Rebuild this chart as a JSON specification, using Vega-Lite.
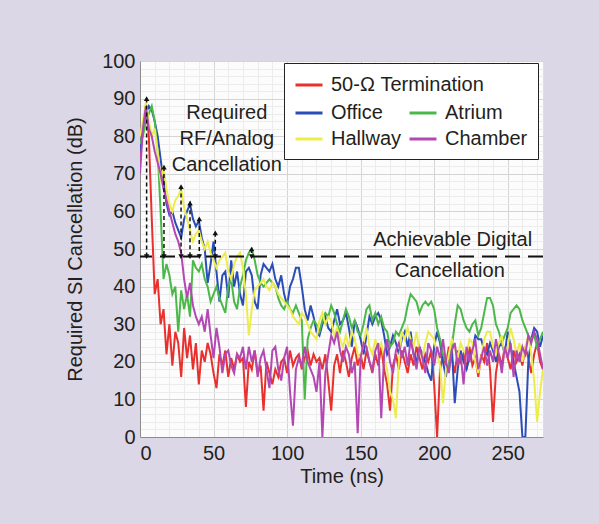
{
  "$schema": "https://vega.github.io/schema/vega-lite/v6.json",
  "width": 403,
  "height": 376,
  "autosize": {"type": "none"},
  "padding": {"left": 140, "top": 61, "right": 56, "bottom": 87},
  "background": "#dbd7e6",
  "config": {
    "font": "Liberation Sans",
    "view": {"fill": "#fcfcfd", "stroke": "#dddddd"},
    "axis": {
      "labelFontSize": 20,
      "labelColor": "#231f20",
      "titleFontSize": 20,
      "titleFontWeight": "normal",
      "titleColor": "#231f20",
      "ticks": false,
      "domainColor": "#8c8c8c",
      "labelOverlap": false
    }
  },
  "datasets": {
    "curves": [
      {"t":0,"Termination":74,"Office":76,"Atrium":78,"Hallway":80,"Chamber":70},
      {"t":2,"Termination":82,"Office":82,"Atrium":80,"Hallway":84,"Chamber":82},
      {"t":4,"Termination":88,"Office":86,"Atrium":84,"Hallway":89,"Chamber":88},
      {"t":6,"Termination":80,"Office":88,"Atrium":86,"Hallway":84,"Chamber":82},
      {"t":8,"Termination":58,"Office":87,"Atrium":88,"Hallway":80,"Chamber":80},
      {"t":10,"Termination":38,"Office":84,"Atrium":84,"Hallway":82,"Chamber":76},
      {"t":12,"Termination":42,"Office":80,"Atrium":76,"Hallway":76,"Chamber":73},
      {"t":14,"Termination":30,"Office":74,"Atrium":60,"Hallway":68,"Chamber":70},
      {"t":16,"Termination":34,"Office":68,"Atrium":42,"Hallway":72,"Chamber":66},
      {"t":18,"Termination":22,"Office":62,"Atrium":46,"Hallway":66,"Chamber":63},
      {"t":20,"Termination":30,"Office":59,"Atrium":43,"Hallway":62,"Chamber":60},
      {"t":22,"Termination":19,"Office":60,"Atrium":38,"Hallway":60,"Chamber":57},
      {"t":24,"Termination":28,"Office":57,"Atrium":40,"Hallway":63,"Chamber":54},
      {"t":26,"Termination":25,"Office":55,"Atrium":28,"Hallway":64,"Chamber":52},
      {"t":28,"Termination":16,"Office":53,"Atrium":39,"Hallway":66,"Chamber":49},
      {"t":30,"Termination":29,"Office":58,"Atrium":34,"Hallway":61,"Chamber":42},
      {"t":32,"Termination":21,"Office":60,"Atrium":38,"Hallway":58,"Chamber":37},
      {"t":34,"Termination":27,"Office":62,"Atrium":32,"Hallway":55,"Chamber":41},
      {"t":36,"Termination":18,"Office":58,"Atrium":47,"Hallway":52,"Chamber":35},
      {"t":38,"Termination":25,"Office":56,"Atrium":45,"Hallway":54,"Chamber":32},
      {"t":40,"Termination":14,"Office":57.5,"Atrium":44,"Hallway":55,"Chamber":30},
      {"t":42,"Termination":23,"Office":53,"Atrium":46,"Hallway":52,"Chamber":32},
      {"t":44,"Termination":20,"Office":50,"Atrium":42,"Hallway":50,"Chamber":28},
      {"t":46,"Termination":25,"Office":41,"Atrium":40,"Hallway":52,"Chamber":34},
      {"t":48,"Termination":22,"Office":46,"Atrium":36,"Hallway":49,"Chamber":27},
      {"t":50,"Termination":17,"Office":52,"Atrium":38,"Hallway":47,"Chamber":21},
      {"t":52,"Termination":13,"Office":44,"Atrium":40,"Hallway":45,"Chamber":29},
      {"t":54,"Termination":22,"Office":36,"Atrium":37,"Hallway":47,"Chamber":24},
      {"t":56,"Termination":19,"Office":43,"Atrium":35,"Hallway":48,"Chamber":17},
      {"t":58,"Termination":23,"Office":44,"Atrium":33,"Hallway":49,"Chamber":22},
      {"t":60,"Termination":16,"Office":37,"Atrium":40,"Hallway":44,"Chamber":23},
      {"t":62,"Termination":21,"Office":47,"Atrium":42,"Hallway":42,"Chamber":19},
      {"t":64,"Termination":18,"Office":40,"Atrium":36,"Hallway":46,"Chamber":17},
      {"t":66,"Termination":22,"Office":44,"Atrium":34,"Hallway":48,"Chamber":22},
      {"t":68,"Termination":20,"Office":38,"Atrium":40,"Hallway":49,"Chamber":21},
      {"t":70,"Termination":21,"Office":35,"Atrium":43,"Hallway":45,"Chamber":24},
      {"t":72,"Termination":8,"Office":44,"Atrium":47,"Hallway":38,"Chamber":18},
      {"t":74,"Termination":20,"Office":45,"Atrium":49,"Hallway":27,"Chamber":24},
      {"t":76,"Termination":18,"Office":43,"Atrium":50,"Hallway":34,"Chamber":20},
      {"t":78,"Termination":23,"Office":36,"Atrium":47,"Hallway":39,"Chamber":23},
      {"t":80,"Termination":17,"Office":34,"Atrium":43,"Hallway":40,"Chamber":16},
      {"t":82,"Termination":19,"Office":43,"Atrium":41,"Hallway":41,"Chamber":21},
      {"t":84,"Termination":7,"Office":46,"Atrium":40,"Hallway":42,"Chamber":23},
      {"t":86,"Termination":20,"Office":45,"Atrium":41,"Hallway":40,"Chamber":18},
      {"t":88,"Termination":17,"Office":44,"Atrium":42,"Hallway":39,"Chamber":13},
      {"t":90,"Termination":14,"Office":46,"Atrium":41,"Hallway":41,"Chamber":23},
      {"t":92,"Termination":18,"Office":42,"Atrium":40,"Hallway":40,"Chamber":24},
      {"t":94,"Termination":16,"Office":40,"Atrium":37,"Hallway":38,"Chamber":18},
      {"t":96,"Termination":20,"Office":43,"Atrium":35,"Hallway":37,"Chamber":15},
      {"t":98,"Termination":21,"Office":38,"Atrium":34,"Hallway":36,"Chamber":21},
      {"t":100,"Termination":17,"Office":35,"Atrium":36,"Hallway":35,"Chamber":24},
      {"t":102,"Termination":23,"Office":40,"Atrium":34,"Hallway":34,"Chamber":12},
      {"t":104,"Termination":19,"Office":42,"Atrium":33,"Hallway":32,"Chamber":3},
      {"t":106,"Termination":21,"Office":45,"Atrium":35,"Hallway":31,"Chamber":18},
      {"t":108,"Termination":22,"Office":45,"Atrium":33,"Hallway":30,"Chamber":21},
      {"t":110,"Termination":18,"Office":40,"Atrium":31,"Hallway":33,"Chamber":19},
      {"t":112,"Termination":21,"Office":34,"Atrium":10,"Hallway":32,"Chamber":24},
      {"t":114,"Termination":23,"Office":31,"Atrium":26,"Hallway":30,"Chamber":20},
      {"t":116,"Termination":19,"Office":35,"Atrium":29,"Hallway":28,"Chamber":18},
      {"t":118,"Termination":22,"Office":32,"Atrium":31,"Hallway":27,"Chamber":16},
      {"t":120,"Termination":20,"Office":28,"Atrium":30,"Hallway":26,"Chamber":12},
      {"t":122,"Termination":21,"Office":27,"Atrium":28,"Hallway":31,"Chamber":20},
      {"t":124,"Termination":18,"Office":30,"Atrium":31,"Hallway":33,"Chamber":0},
      {"t":126,"Termination":22,"Office":32,"Atrium":33,"Hallway":30,"Chamber":17},
      {"t":128,"Termination":15,"Office":29,"Atrium":32,"Hallway":32,"Chamber":22},
      {"t":130,"Termination":7,"Office":28,"Atrium":35,"Hallway":31,"Chamber":27},
      {"t":132,"Termination":19,"Office":31,"Atrium":33,"Hallway":27,"Chamber":25},
      {"t":134,"Termination":22,"Office":34,"Atrium":30,"Hallway":29,"Chamber":28},
      {"t":136,"Termination":17,"Office":30,"Atrium":28,"Hallway":26,"Chamber":23},
      {"t":138,"Termination":23,"Office":31,"Atrium":31,"Hallway":24,"Chamber":20},
      {"t":140,"Termination":20,"Office":33,"Atrium":34,"Hallway":27,"Chamber":24},
      {"t":142,"Termination":16,"Office":29,"Atrium":32,"Hallway":24,"Chamber":22},
      {"t":144,"Termination":21,"Office":24,"Atrium":29,"Hallway":28,"Chamber":17},
      {"t":146,"Termination":24,"Office":31,"Atrium":31,"Hallway":26,"Chamber":20},
      {"t":148,"Termination":19,"Office":29,"Atrium":28,"Hallway":22,"Chamber":1},
      {"t":150,"Termination":22,"Office":26,"Atrium":27,"Hallway":21,"Chamber":21},
      {"t":152,"Termination":18,"Office":22,"Atrium":30,"Hallway":25,"Chamber":25},
      {"t":154,"Termination":23,"Office":27,"Atrium":34,"Hallway":29,"Chamber":24},
      {"t":156,"Termination":20,"Office":32,"Atrium":35,"Hallway":24,"Chamber":20},
      {"t":158,"Termination":17,"Office":30,"Atrium":31,"Hallway":22,"Chamber":18},
      {"t":160,"Termination":22,"Office":32,"Atrium":33,"Hallway":26,"Chamber":23},
      {"t":162,"Termination":19,"Office":33,"Atrium":30,"Hallway":23,"Chamber":25},
      {"t":164,"Termination":24,"Office":31,"Atrium":32,"Hallway":25,"Chamber":5},
      {"t":166,"Termination":18,"Office":27,"Atrium":29,"Hallway":21,"Chamber":22},
      {"t":168,"Termination":14,"Office":22,"Atrium":28,"Hallway":18,"Chamber":26},
      {"t":170,"Termination":7,"Office":24,"Atrium":24,"Hallway":12,"Chamber":20},
      {"t":172,"Termination":19,"Office":27,"Atrium":25,"Hallway":10,"Chamber":17},
      {"t":174,"Termination":22,"Office":25,"Atrium":28,"Hallway":5,"Chamber":23},
      {"t":176,"Termination":18,"Office":22,"Atrium":27,"Hallway":20,"Chamber":25},
      {"t":178,"Termination":23,"Office":26,"Atrium":29,"Hallway":28,"Chamber":21},
      {"t":180,"Termination":20,"Office":28,"Atrium":31,"Hallway":26,"Chamber":24},
      {"t":182,"Termination":17,"Office":24,"Atrium":35,"Hallway":29,"Chamber":19},
      {"t":184,"Termination":22,"Office":28,"Atrium":38,"Hallway":26,"Chamber":26},
      {"t":186,"Termination":19,"Office":22,"Atrium":37,"Hallway":24,"Chamber":22},
      {"t":188,"Termination":24,"Office":20,"Atrium":36,"Hallway":28,"Chamber":18},
      {"t":190,"Termination":21,"Office":24,"Atrium":33,"Hallway":23,"Chamber":24},
      {"t":192,"Termination":18,"Office":22,"Atrium":35,"Hallway":21,"Chamber":21},
      {"t":194,"Termination":22,"Office":20,"Atrium":36,"Hallway":25,"Chamber":17},
      {"t":196,"Termination":20,"Office":17,"Atrium":35,"Hallway":28,"Chamber":25},
      {"t":198,"Termination":23,"Office":15,"Atrium":36,"Hallway":27,"Chamber":23},
      {"t":200,"Termination":14,"Office":24,"Atrium":34,"Hallway":26,"Chamber":19},
      {"t":202,"Termination":0,"Office":28,"Atrium":29,"Hallway":22,"Chamber":24},
      {"t":204,"Termination":18,"Office":25,"Atrium":26,"Hallway":19,"Chamber":21},
      {"t":206,"Termination":22,"Office":20,"Atrium":22,"Hallway":9,"Chamber":26},
      {"t":208,"Termination":19,"Office":16,"Atrium":20,"Hallway":18,"Chamber":20},
      {"t":210,"Termination":24,"Office":22,"Atrium":18,"Hallway":22,"Chamber":17},
      {"t":212,"Termination":21,"Office":24,"Atrium":24,"Hallway":26,"Chamber":23},
      {"t":214,"Termination":17,"Office":9,"Atrium":30,"Hallway":24,"Chamber":25},
      {"t":216,"Termination":23,"Office":18,"Atrium":35,"Hallway":21,"Chamber":19},
      {"t":218,"Termination":20,"Office":23,"Atrium":34,"Hallway":25,"Chamber":22},
      {"t":220,"Termination":22,"Office":20,"Atrium":31,"Hallway":23,"Chamber":14},
      {"t":222,"Termination":18,"Office":18,"Atrium":29,"Hallway":22,"Chamber":24},
      {"t":224,"Termination":24,"Office":21,"Atrium":28,"Hallway":26,"Chamber":20},
      {"t":226,"Termination":19,"Office":23,"Atrium":30,"Hallway":25,"Chamber":23},
      {"t":228,"Termination":21,"Office":27,"Atrium":31,"Hallway":20,"Chamber":26},
      {"t":230,"Termination":16,"Office":26,"Atrium":27,"Hallway":17,"Chamber":18},
      {"t":232,"Termination":22,"Office":26,"Atrium":29,"Hallway":21,"Chamber":21},
      {"t":234,"Termination":20,"Office":23,"Atrium":33,"Hallway":26,"Chamber":24},
      {"t":236,"Termination":25,"Office":22,"Atrium":37,"Hallway":28,"Chamber":19},
      {"t":238,"Termination":18,"Office":25,"Atrium":37,"Hallway":28,"Chamber":23},
      {"t":240,"Termination":4,"Office":23,"Atrium":35,"Hallway":24,"Chamber":20},
      {"t":242,"Termination":17,"Office":20,"Atrium":30,"Hallway":22,"Chamber":26},
      {"t":244,"Termination":22,"Office":24,"Atrium":28,"Hallway":25,"Chamber":22},
      {"t":246,"Termination":19,"Office":25,"Atrium":25,"Hallway":27,"Chamber":17},
      {"t":248,"Termination":24,"Office":22,"Atrium":27,"Hallway":21,"Chamber":24},
      {"t":250,"Termination":21,"Office":28,"Atrium":29,"Hallway":24,"Chamber":21},
      {"t":252,"Termination":18,"Office":24,"Atrium":33,"Hallway":29,"Chamber":25},
      {"t":254,"Termination":23,"Office":20,"Atrium":34,"Hallway":26,"Chamber":16},
      {"t":256,"Termination":20,"Office":16,"Atrium":35,"Hallway":22,"Chamber":23},
      {"t":258,"Termination":22,"Office":12,"Atrium":34,"Hallway":25,"Chamber":20},
      {"t":260,"Termination":19,"Office":0,"Atrium":31,"Hallway":20,"Chamber":24},
      {"t":262,"Termination":24,"Office":0,"Atrium":29,"Hallway":24,"Chamber":22},
      {"t":264,"Termination":21,"Office":20,"Atrium":27,"Hallway":27,"Chamber":27},
      {"t":266,"Termination":17,"Office":26,"Atrium":26,"Hallway":22,"Chamber":25},
      {"t":268,"Termination":22,"Office":29,"Atrium":27,"Hallway":15,"Chamber":28},
      {"t":270,"Termination":25,"Office":28,"Atrium":24,"Hallway":4,"Chamber":26},
      {"t":272,"Termination":20,"Office":24,"Atrium":26,"Hallway":12,"Chamber":22},
      {"t":274,"Termination":18,"Office":27,"Atrium":28,"Hallway":18,"Chamber":18}
    ],
    "arrows": [
      {"t":4.5,"top":90,"bottom":48},
      {"t":16.3,"top":71.8,"bottom":48},
      {"t":27.9,"top":66.6,"bottom":48},
      {"t":34,"top":62.2,"bottom":48},
      {"t":40.3,"top":58,"bottom":48},
      {"t":51.2,"top":54.3,"bottom":48},
      {"t":75.9,"top":50,"bottom":48}
    ],
    "one": [{}]
  },
  "resolve": {"scale": {"color": "independent"}},
  "layer": [
    {
      "data": {"name": "curves"},
      "transform": [
        {"fold": ["Termination","Office","Atrium","Hallway","Chamber"], "as": ["series","value"]},
        {"filter": "datum.series === 'Termination'"}
      ],
      "mark": {"type": "line", "strokeWidth": 2, "clip": true},
      "encoding": {
        "x": {"field": "t", "type": "quantitative",
          "scale": {"domain": [0, 274], "nice": false},
          "axis": {"title": "Time (ns)", "titlePadding": 3, "labelPadding": 6, "labelOverlap": false, "tickCount": 100,
            "values": [0,10,20,30,40,50,60,70,80,90,100,110,120,130,140,150,160,170,180,190,200,210,220,230,240,250,260,270],
            "labelExpr": "datum.value % 50 === 0 ? datum.label : ''",
            "gridColor": {"condition": {"test": "datum.value % 50 === 0", "value": "#d4d4d4"}, "value": "#ececec"}}},
        "y": {"field": "value", "type": "quantitative",
          "scale": {"domain": [0, 100], "nice": false},
          "axis": {"title": "Required SI Cancellation (dB)", "titlePadding": 16, "labelPadding": 5, "labelOverlap": false, "tickCount": 100,
            "values": [0,2,4,6,8,10,12,14,16,18,20,22,24,26,28,30,32,34,36,38,40,42,44,46,48,50,52,54,56,58,60,62,64,66,68,70,72,74,76,78,80,82,84,86,88,90,92,94,96,98,100],
            "labelExpr": "datum.value % 10 === 0 ? datum.label : ''",
            "gridColor": {"condition": {"test": "datum.value % 10 === 0", "value": "#d4d4d4"}, "value": "#ececec"}}},
        "color": {"field": "series", "type": "nominal",
          "scale": {"domain": ["Termination"], "range": ["#e8302c"]},
          "legend": {"orient": "none", "legendX": 154, "legendY": 9, "title": null,
            "labelExpr": "'50-Ω Termination'", "symbolType": "stroke", "symbolSize": 729, "symbolStrokeWidth": 3,
            "labelFontSize": 20, "labelColor": "#231f20", "labelOffset": 7, "labelLimit": 300, "padding": 0, "zindex": 3}}
      }
    },
    {
      "data": {"name": "curves"},
      "transform": [
        {"fold": ["Termination","Office","Atrium","Hallway","Chamber"], "as": ["series","value"]},
        {"filter": "datum.series !== 'Termination'"}
      ],
      "mark": {"type": "line", "strokeWidth": 2, "clip": true},
      "encoding": {
        "x": {"field": "t", "type": "quantitative"},
        "y": {"field": "value", "type": "quantitative"},
        "color": {"field": "series", "type": "nominal",
          "scale": {"domain": ["Office","Hallway","Atrium","Chamber"], "range": ["#2a4db8","#ecec4c","#4cb84a","#b347b3"]},
          "legend": {"orient": "none", "legendX": 144, "legendY": 2,
            "title": ".",
            "titleFontSize": 20, "titleFontWeight": "normal", "titleColor": "transparent", "titlePadding": 5, "titleLimit": 400,
            "columns": 2, "columnPadding": 1, "rowPadding": 1,
            "symbolType": "stroke", "symbolSize": 729, "symbolStrokeWidth": 3,
            "labelFontSize": 20, "labelColor": "#231f20", "labelOffset": 7, "labelLimit": 300,
            "padding": 10, "fillColor": "white", "strokeColor": "#222222", "zindex": 2}}
      }
    },
    {
      "data": {"name": "one"},
      "mark": {"type": "rule", "color": "#111111", "strokeWidth": 2, "strokeDash": [15, 8]},
      "encoding": {"y": {"datum": 48}}
    },
    {
      "data": {"name": "arrows"},
      "mark": {"type": "rule", "color": "#111111", "strokeWidth": 1.5, "strokeDash": [4, 3]},
      "encoding": {
        "x": {"field": "t", "type": "quantitative"},
        "y": {"field": "top", "type": "quantitative"},
        "y2": {"field": "bottom"}
      }
    },
    {
      "data": {"name": "arrows"},
      "mark": {"type": "point", "shape": "triangle-up", "filled": true, "size": 30, "color": "#111111", "opacity": 1},
      "encoding": {
        "x": {"field": "t", "type": "quantitative"},
        "y": {"field": "top", "type": "quantitative"}
      }
    },
    {
      "data": {"name": "arrows"},
      "mark": {"type": "point", "shape": "triangle-down", "filled": true, "size": 30, "color": "#111111", "opacity": 1},
      "encoding": {
        "x": {"field": "t", "type": "quantitative"},
        "y": {"field": "bottom", "type": "quantitative"}
      }
    },
    {
      "data": {"name": "one"},
      "mark": {"type": "text", "fontSize": 20, "color": "#231f20", "align": "center", "baseline": "middle", "lineHeight": 26},
      "encoding": {
        "x": {"datum": 59},
        "y": {"datum": 86.2},
        "text": {"value": ["Required", "RF/Analog", "Cancellation"]}
      }
    },
    {
      "data": {"name": "one"},
      "mark": {"type": "text", "fontSize": 20, "color": "#231f20", "align": "center", "baseline": "middle"},
      "encoding": {
        "x": {"datum": 212.6},
        "y": {"datum": 52.4},
        "text": {"value": "Achievable Digital"}
      }
    },
    {
      "data": {"name": "one"},
      "mark": {"type": "text", "fontSize": 20, "color": "#231f20", "align": "center", "baseline": "middle"},
      "encoding": {
        "x": {"datum": 210.6},
        "y": {"datum": 44.1},
        "text": {"value": "Cancellation"}
      }
    }
  ]
}
